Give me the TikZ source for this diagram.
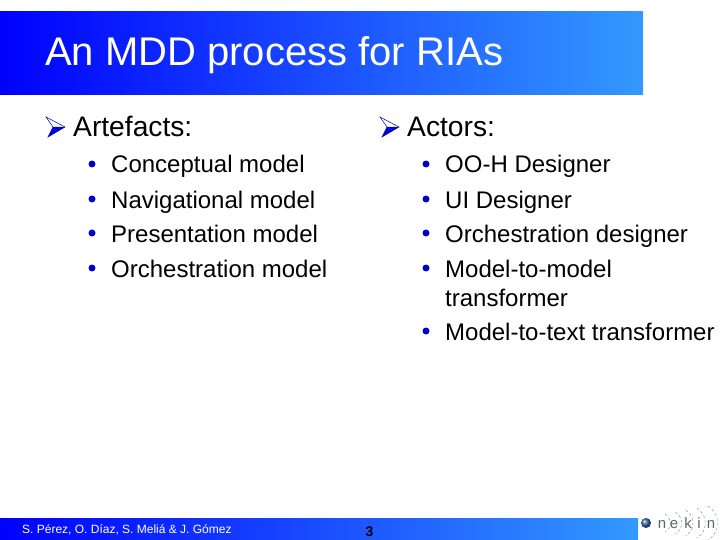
\documentclass[tikz,border=0pt]{standalone}
\usepackage{fontspec}
\setmainfont{Liberation Sans}
\usepackage{xcolor}
\usetikzlibrary{positioning}
\definecolor{barleft}{RGB}{0,0,255}
\definecolor{barright}{RGB}{51,153,255}
\definecolor{logogrey}{RGB}{95,100,110}
\definecolor{logoball}{RGB}{60,105,170}
\tikzset{
  head/.style={anchor=base west,inner sep=0pt,font=\fontsize{28.2}{30}\selectfont},
  item/.style={anchor=base west,inner sep=0pt,font=\fontsize{24}{26}\selectfont},
  dot/.style={circle,fill=barleft!80!black,inner sep=0pt,minimum size=7pt},
  logo/.style={anchor=base,inner sep=0pt,text=logogrey,font=\fontsize{15}{17}\selectfont},
  wave/.style={draw=logogrey!75,line width=0.4pt,densely dashed}
}
\newcommand{\headmark}[2]{%
  \filldraw[draw=barleft!70!black,fill=white,line width=0.5pt] (#1,#2) -- (#1+19,#2+10) -- (#1+2,#2+20) -- (#1+7,#2+10) -- cycle;
  \fill[barleft!85!black] (#1+7,#2+10) -- (#1+19,#2+10) -- (#1+2,#2+20) -- cycle;}
\begin{document}
\begin{tikzpicture}[x=1pt,y=-1pt]
    \useasboundingbox (0,0) rectangle (720,540);
    % title bar
    \node (titlebar) [anchor=north west,minimum width=643pt,minimum height=83.6pt,inner sep=0pt,
      left color=barleft,right color=barright] at (0,11) {};
    \node (title) [anchor=base west,inner sep=0pt,text=white,font=\fontsize{40}{44}\selectfont] at (45,66) {An MDD process for RIAs};
    % left column
    \headmark{46}{117}
    \node (artefacts) [head] at (73,137) {Artefacts:};
    \node (bulletA) [dot] at (92,164) {};
    \node (bulletB) [dot] at (92,199) {};
    \node (bulletC) [dot] at (92,233) {};
    \node (bulletD) [dot] at (92,268) {};
    \node (conceptual) [item] at (111,173) {Conceptual model};
    \node (navigational) [item] at (111,208) {Navigational model};
    \node (presentation) [item] at (111,242) {Presentation model};
    \node (orchestration) [item] at (111,277) {Orchestration model};
    % right column
    \headmark{380}{117}
    \node (actors) [head] at (407,137) {Actors:};
    \node (bulletE) [dot] at (426,164) {};
    \node (bulletF) [dot] at (426,199) {};
    \node (bulletG) [dot] at (426,233) {};
    \node (bulletH) [dot] at (426,268) {};
    \node (bulletI) [dot] at (426,331) {};
    \node (oohdesigner) [item] at (445,173) {OO-H Designer};
    \node (uidesigner) [item] at (445,208) {UI Designer};
    \node (orchdesigner) [item] at (445,242) {Orchestration designer};
    \node (mtomA) [item] at (445,277) {Model-to-model};
    \node (mtomB) [item] at (445,306) {transformer};
    \node (mtot) [item] at (445,340) {Model-to-text transformer};
    % footer
    \node (footbar) [anchor=north west,minimum width=638pt,minimum height=22pt,inner sep=0pt,
      left color=barleft,right color=barright] at (0,518) {};
    \node (authors) [anchor=base west,inner sep=0pt,text=white,font=\fontsize{12}{14}\selectfont] at (22,533) {S. Pérez, O. Díaz, S. Meliá \& J. Gómez};
    \node (pagenum) [anchor=base,inner sep=0pt,font=\bfseries\fontsize{14}{16}\selectfont] at (369.5,536) {3};
    % logo
    \shade[ball color=logoball] (646,523) circle (5pt);
    \foreach \wx/\wr in {660/10.4,669/12.7,678/15,688/17.3,698/19.6}
      \draw[wave] (\wx,523) ++(60:\wr pt) arc (60:-60:\wr pt);
    \node (logoN) [logo] at (662,528) {n};
    \node (logoE) [logo] at (674,528) {e};
    \node (logoK) [logo] at (688,528) {k};
    \node (logoI) [logo] at (699,528) {i};
    \node (logoM) [logo] at (711,528) {n};
\end{tikzpicture}
\end{document}
